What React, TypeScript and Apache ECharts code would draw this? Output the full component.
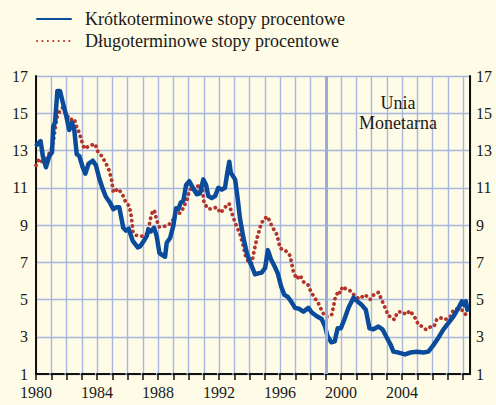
import React, { useEffect, useRef } from "react";
import * as echarts from "echarts";

const shortYears = [
  1980.05, 1980.3, 1980.45, 1980.65, 1980.87, 1981.05, 1981.13, 1981.25, 1981.4, 1981.57,
  1981.75, 1981.97, 1982.18, 1982.36, 1982.51, 1982.67, 1982.84, 1983.06, 1983.23, 1983.45,
  1983.72, 1983.93, 1984.15, 1984.37, 1984.59, 1984.85, 1985.07, 1985.25, 1985.46, 1985.72,
  1985.9, 1986.08, 1986.34, 1986.67, 1986.82, 1987.03, 1987.26, 1987.36, 1987.52, 1987.74,
  1987.91, 1988.09, 1988.24, 1988.46, 1988.57, 1988.79, 1989.0, 1989.18, 1989.33, 1989.49,
  1989.66, 1989.84, 1990.05, 1990.28, 1990.54, 1990.75, 1990.97, 1991.15, 1991.3, 1991.52,
  1991.74, 1991.95, 1992.18, 1992.39, 1992.54, 1992.67, 1992.77, 1993.05, 1993.2, 1993.38,
  1993.6, 1993.82, 1994.03, 1994.14, 1994.36, 1994.58, 1994.8, 1995.02, 1995.2, 1995.41,
  1995.63, 1995.85, 1996.07, 1996.28, 1996.5, 1996.72, 1996.98, 1997.25, 1997.53, 1997.86,
  1998.08, 1998.41, 1998.73, 1998.95, 1999.1, 1999.36, 1999.58, 1999.77, 1999.98, 2000.2,
  2000.48, 2000.81, 2001.07, 2001.36, 2001.62, 2001.86, 2002.12, 2002.45, 2002.71, 2003.0,
  2003.26, 2003.43, 2003.76, 2004.2, 2004.52, 2004.96, 2005.4, 2005.72, 2006.05, 2006.38,
  2006.71, 2007.04, 2007.37, 2007.7, 2007.92, 2008.07, 2008.18, 2008.28,
];
const shortRates = [
  13.3, 13.5, 12.7, 12.1, 12.7, 12.9, 14.3, 14.5, 16.2, 16.2,
  15.6, 14.9, 14.1, 14.5, 14.1, 12.8, 12.7, 12.1, 11.75, 12.3,
  12.45, 12.2, 11.5, 10.95, 10.5, 10.2, 9.85, 9.95, 9.95, 8.85,
  8.7, 8.8, 8.15, 7.8, 7.85, 8.1, 8.4, 8.75, 8.65, 8.85,
  8.4, 7.5, 7.4, 7.3, 8.05, 8.3, 8.95, 9.9, 9.85, 10.2,
  10.3, 11.15, 11.35, 11.0, 10.65, 10.7, 11.45, 11.15, 10.55, 10.45,
  10.55, 11.0, 10.9, 11.0, 11.8, 12.4, 11.8, 11.45, 10.55, 9.3,
  8.3, 7.5, 7.0, 6.8, 6.35, 6.4, 6.45, 6.7, 7.65, 7.15,
  6.8, 6.4, 5.7, 5.25, 5.15, 4.9, 4.55, 4.5, 4.35, 4.55,
  4.3, 4.1, 3.95, 3.55, 3.05, 2.7, 2.75, 3.45, 3.45, 3.9,
  4.55, 5.1, 4.9, 4.7, 4.45, 3.45, 3.4, 3.55, 3.4, 2.95,
  2.55, 2.2, 2.15, 2.05, 2.15, 2.2, 2.15, 2.2, 2.55, 2.95,
  3.4, 3.75, 4.1, 4.55, 4.9, 4.7, 4.9, 4.45,
];

const longYears = [
  1980.0, 1980.2, 1980.39, 1980.6, 1980.77, 1980.98, 1981.13, 1981.27, 1981.36, 1981.57,
  1981.75, 1982.01, 1982.18, 1982.51, 1982.67, 1982.84, 1983.0, 1983.17, 1983.5, 1983.87,
  1984.05, 1984.31, 1984.59, 1984.81, 1984.96, 1985.07, 1985.36, 1985.64, 1985.84, 1986.12,
  1986.23, 1986.3, 1986.36, 1986.56, 1986.95, 1987.24, 1987.41, 1987.52, 1987.67, 1987.8,
  1987.89, 1988.07, 1988.33, 1988.68, 1988.94, 1989.16, 1989.49, 1989.7, 1989.92, 1990.03,
  1990.25, 1990.51, 1990.64, 1990.9, 1991.02, 1991.34, 1991.61, 1991.85, 1992.1, 1992.39,
  1992.66, 1992.81, 1992.98, 1993.16, 1993.36, 1993.53, 1993.75, 1993.97, 1994.14, 1994.25,
  1994.36, 1994.47, 1994.62, 1994.75, 1994.97, 1995.19, 1995.34, 1995.56, 1995.78, 1995.89,
  1996.0, 1996.15, 1996.33, 1996.66, 1996.77, 1996.87, 1997.09, 1997.31, 1997.53, 1997.82,
  1998.03, 1998.3, 1998.51, 1998.73, 1998.95, 1999.17, 1999.39, 1999.5, 1999.61, 1999.83,
  1999.93, 2000.11, 2000.38, 2000.64, 2000.92, 2001.2, 2001.42, 2001.57, 2001.9, 2002.18,
  2002.45, 2002.56, 2002.89, 2003.1, 2003.33, 2003.48, 2003.7, 2003.98, 2004.26, 2004.52,
  2004.85, 2005.07, 2005.29, 2005.57, 2005.84, 2006.1, 2006.28, 2006.54, 2006.82, 2007.15,
  2007.37, 2007.59, 2007.8, 2008.02, 2008.24,
];
const longRates = [
  12.2, 12.55, 12.4, 12.25, 12.7, 13.0, 13.45, 14.25, 14.75, 15.15,
  15.3, 14.95, 14.65, 14.7, 14.25, 13.95, 13.5, 13.1, 13.25, 13.35,
  12.95, 12.7, 12.3, 11.9, 11.4, 10.75, 10.95, 10.7, 10.3, 10.0,
  9.55, 9.1, 8.65, 8.45, 8.4, 8.5, 8.95, 9.4, 9.8, 9.7,
  9.3, 8.9, 8.9, 9.0, 9.2, 9.6, 9.65, 10.0, 10.4, 10.8,
  11.05, 10.75, 11.2, 11.05, 10.15, 9.85, 9.9, 9.95, 9.65, 9.95,
  10.15, 9.7, 9.3, 8.9, 8.55, 8.05, 7.3, 6.95, 6.95, 7.4,
  7.85, 8.25, 8.65, 9.05, 9.35, 9.45, 9.15, 8.8, 8.5, 8.15,
  7.75, 7.7, 7.65, 7.35, 6.9, 6.5, 6.1, 6.3, 5.95, 5.8,
  5.4, 5.05, 4.8, 4.4, 4.08, 4.08, 4.2, 4.62, 5.08, 5.47,
  5.35, 5.7, 5.53, 5.45, 5.17, 5.03, 5.17, 5.26, 5.0, 5.3,
  5.38, 5.17, 4.55, 4.13, 4.06, 3.92, 4.31, 4.36, 4.19, 4.4,
  4.01, 3.65, 3.56, 3.38, 3.52, 3.56, 3.95, 4.01, 3.92, 4.06,
  4.45, 4.5, 4.45, 4.4, 4.1,
];

const seriesNames = ["Krótkoterminowe stopy procentowe", "Długoterminowe stopy procentowe"];
const yTicks = [1, 3, 5, 7, 9, 11, 13, 15, 17];
const xLabels = [1980, 1984, 1988, 1992, 1996, 2000, 2004];
const xStart = 1980;
const xEnd = 2008.45;
const emuYear = 1999;
const emuLabel = "Unia\nMonetarna";

const FONT = "Liberation Serif";
const BG = "#fefce6";
const GRID = "#a9b7df";
const BLUE = "#0b4b9b";
const RED = "#b3342c";
const INK = "#1a1a1a";

export default function App() {
  const ref = useRef<HTMLDivElement>(null);
  useEffect(() => {
    if (!ref.current) return;
    const chart = echarts.init(ref.current, undefined, { renderer: "svg" });
    const shortData = shortYears.map((x, i) => [x, shortRates[i]]);
    const longData = longYears.map((x, i) => [x, longRates[i]]);
    const yMin = yTicks[0];
    const yMax = yTicks[yTicks.length - 1];
    const yStep = yTicks[1] - yTicks[0];
    chart.setOption({
      animation: false,
      backgroundColor: BG,
      textStyle: { fontFamily: FONT },
      grid: { left: 36, right: 26, top: 76, bottom: 31, containLabel: false },
      legend: {
        data: seriesNames,
        orient: "vertical",
        left: 36,
        top: 10,
        padding: 0,
        itemWidth: 34,
        itemHeight: 14,
        itemGap: 4,
        selectedMode: false,
        itemStyle: { opacity: 0, color: "rgba(0,0,0,0)", borderWidth: 0 },
        textStyle: { fontSize: 18, lineHeight: 18, fontFamily: FONT, color: INK, padding: [0, 0, 0, 9] },
      },
      xAxis: {
        type: "value",
        min: xStart,
        max: xEnd,
        interval: 1,
        axisLine: {
          show: true,
          lineStyle: { color: "#111", width: 2, type: [12.6, 2.65] },
        },
        axisTick: { show: true, length: 6, lineStyle: { color: "#111", width: 1.5 } },
        axisLabel: {
          margin: 10,
          fontSize: 16,
          fontFamily: FONT,
          color: INK,
          showMaxLabel: false,
          formatter: (v: number) => (xLabels.indexOf(Math.round(v)) >= 0 && Math.abs(v - Math.round(v)) < 1e-6 ? String(Math.round(v)) : ""),
        },
        splitLine: { show: true, lineStyle: { color: GRID, width: 1.4 } },
      },
      yAxis: [
        {
          type: "value",
          min: yMin,
          max: yMax,
          interval: yStep,
          axisLine: { show: true, lineStyle: { color: "#111", width: 2 } },
          axisTick: { show: false },
          axisLabel: { margin: 8, fontSize: 16, fontFamily: FONT, color: INK },
          splitLine: { show: true, lineStyle: { color: GRID, width: 1.4 } },
        },
        {
          type: "value",
          position: "right",
          min: yMin,
          max: yMax,
          interval: yStep,
          axisLine: { show: true, lineStyle: { color: "#111", width: 2 } },
          axisTick: { show: false },
          axisLabel: { margin: 6, fontSize: 16, fontFamily: FONT, color: INK },
          splitLine: { show: false },
        },
      ],
      series: [
        {
          name: "emu",
          type: "line",
          data: [],
          z: 1,
          markLine: {
            silent: true,
            symbol: "none",
            label: { show: false },
            lineStyle: { color: "#9dabd8", width: 3, type: "solid" },
            data: [{ xAxis: emuYear }],
          },
        },
        {
          name: seriesNames[1],
          type: "line",
          data: longData,
          symbol: "none",
          z: 3,
          lineStyle: { color: RED, width: 3.8, type: [0.1, 5.3], cap: "round" },
          itemStyle: { color: RED },
        },
        {
          name: seriesNames[0],
          type: "line",
          data: shortData,
          symbol: "none",
          z: 4,
          lineStyle: { color: BLUE, width: 4.5, cap: "round", join: "round" },
          itemStyle: { color: BLUE },
        },
      ],
      graphic: [
        {
          type: "text",
          x: 398,
          y: 93,
          z: 10,
          style: {
            text: emuLabel,
            textAlign: "center",
            textVerticalAlign: "top",
            fontSize: 18,
            fontFamily: FONT,
            lineHeight: 20,
            fill: INK,
          },
        },
      ],
    });
    return () => chart.dispose();
  }, []);
  return (
    <div
      ref={ref}
      style={{ position: "fixed", left: 0, top: 0, width: 496, height: 405, background: BG }}
    />
  );
}
